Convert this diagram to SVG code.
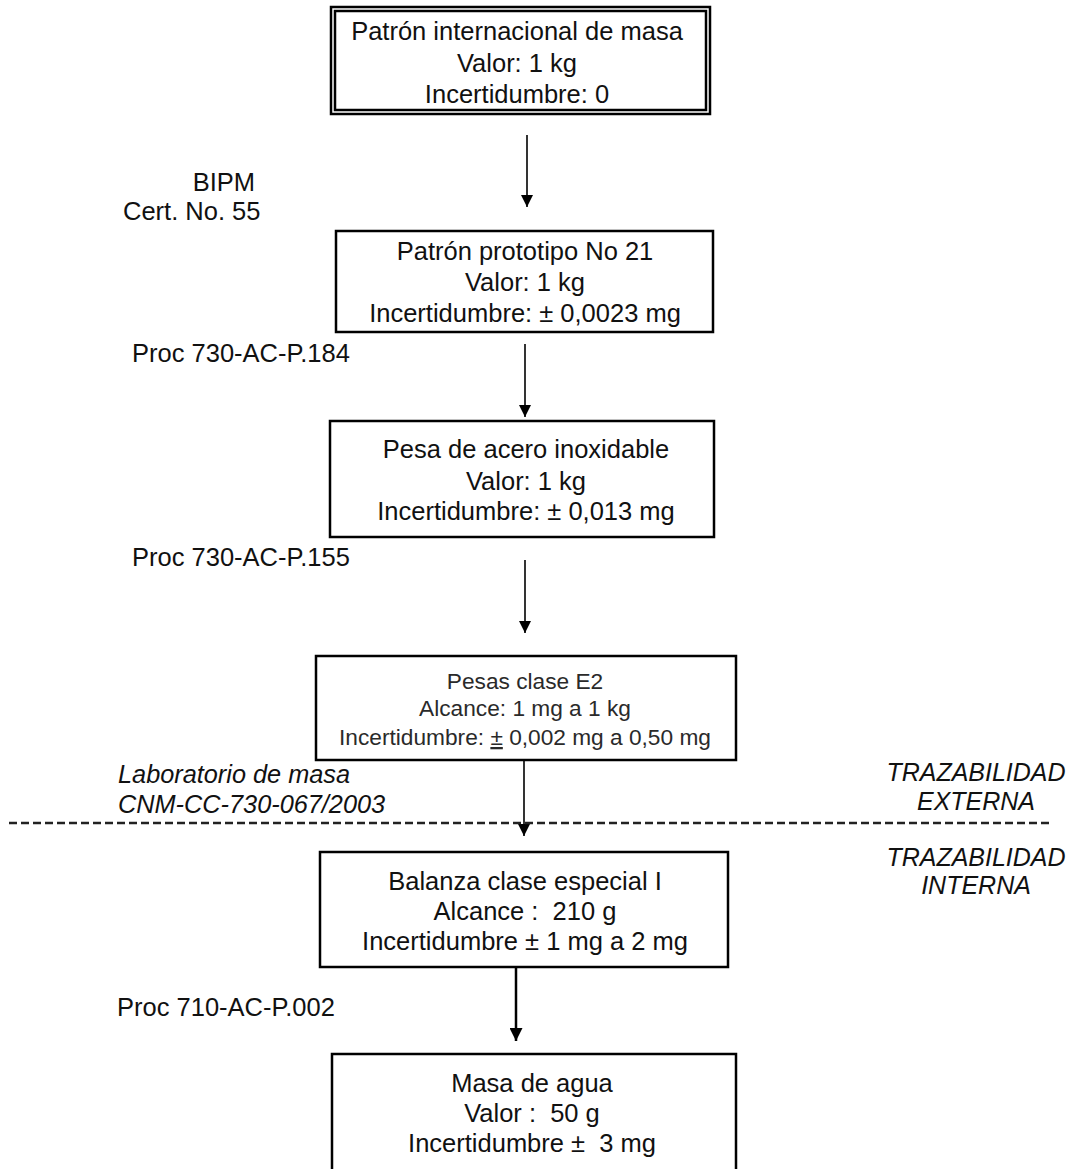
<svg xmlns="http://www.w3.org/2000/svg" width="1073" height="1169" viewBox="0 0 1073 1169">
<defs>
<style>
.box{fill:#fff;stroke:#000;stroke-width:2.5}
.t{font-family:"Liberation Sans",Arial,sans-serif;font-size:25.5px;fill:#111;text-anchor:middle}
.s{font-family:"Liberation Sans",Arial,sans-serif;font-size:22.7px;fill:#2a2a2a;text-anchor:middle}
.l{font-family:"Liberation Sans",Arial,sans-serif;font-size:25.5px;fill:#111}
.i{font-family:"Liberation Sans",Arial,sans-serif;font-size:25.3px;fill:#111;font-style:italic}
.ic{font-family:"Liberation Sans",Arial,sans-serif;font-size:25px;fill:#111;font-style:italic;text-anchor:middle}
.c{stroke:#000;stroke-width:1.6;fill:none}
</style>
<marker id="ah" viewBox="0 0 10 10" refX="10" refY="5" markerWidth="13" markerHeight="12" markerUnits="userSpaceOnUse" orient="auto">
<path d="M0,0 L10,5 L0,10 z" fill="#000"/>
</marker>
<marker id="ah2" viewBox="0 0 10 10" refX="10" refY="5" markerWidth="14" markerHeight="13" markerUnits="userSpaceOnUse" orient="auto">
<path d="M0,0 L10,5 L0,10 z" fill="#000"/>
</marker>
</defs>
<rect width="1073" height="1169" fill="#fff"/>

<g id="connectors">
<line class="c" x1="527" y1="135" x2="527" y2="207" marker-end="url(#ah)"/>
<line class="c" x1="525" y1="344" x2="525" y2="417" marker-end="url(#ah)"/>
<line class="c" x1="525" y1="560" x2="525" y2="633" marker-end="url(#ah)"/>
<line class="c" x1="524" y1="760" x2="524" y2="836" marker-end="url(#ah)"/>
<line stroke="#000" stroke-width="2.5" x1="516" y1="967" x2="516" y2="1041" marker-end="url(#ah2)"/>
<line stroke="#222" stroke-width="2.5" stroke-dasharray="8,4" x1="9" y1="823" x2="1052" y2="823"/>
</g>

<g id="n1">
<rect class="box" x="331" y="7" width="379" height="107"/>
<rect class="box" x="335" y="11" width="371" height="99"/>
<text class="t" x="517" y="40">Patrón internacional de masa</text>
<text class="t" x="517" y="72">Valor: 1 kg</text>
<text class="t" x="517" y="103">Incertidumbre: 0</text>
</g>

<g id="n2">
<rect class="box" x="336" y="231" width="377" height="101"/>
<text class="t" x="525" y="260">Patrón prototipo No 21</text>
<text class="t" x="525" y="291">Valor: 1 kg</text>
<text class="t" x="525" y="322">Incertidumbre: ± 0,0023 mg</text>
</g>

<g id="n3">
<rect class="box" x="330" y="421" width="384" height="116"/>
<text class="t" x="526" y="458">Pesa de acero inoxidable</text>
<text class="t" x="526" y="490">Valor: 1 kg</text>
<text class="t" x="526" y="520">Incertidumbre: ± 0,013 mg</text>
</g>

<g id="n4">
<rect class="box" x="316" y="656" width="420" height="104"/>
<text class="s" x="525" y="689">Pesas clase E2</text>
<text class="s" x="525" y="716">Alcance: 1 mg a 1 kg</text>
<text class="s" x="525" y="745">Incertidumbre: <tspan text-decoration="underline">±</tspan> 0,002 mg a 0,50 mg</text>
</g>

<g id="n5">
<rect class="box" x="320" y="852" width="408" height="115"/>
<text class="t" x="525" y="890">Balanza clase especial I</text>
<text class="t" x="525" y="920" xml:space="preserve">Alcance :  210 g</text>
<text class="t" x="525" y="950">Incertidumbre ± 1 mg a 2 mg</text>
</g>

<g id="n6">
<rect class="box" x="332" y="1054" width="404" height="125"/>
<text class="t" x="532" y="1092">Masa de agua</text>
<text class="t" x="532" y="1122" xml:space="preserve">Valor :  50 g</text>
<text class="t" x="532" y="1152" xml:space="preserve">Incertidumbre ±  3 mg</text>
</g>

<g id="labels">
<text class="l" x="255" y="191" text-anchor="end">BIPM</text>
<text class="l" x="123" y="220">Cert. No. 55</text>
<text class="l" x="132" y="362">Proc 730-AC-P.184</text>
<text class="l" x="132" y="566">Proc 730-AC-P.155</text>
<text class="i" x="118" y="783">Laboratorio de masa</text>
<text class="i" x="118" y="813">CNM-CC-730-067/2003</text>
<text class="ic" x="976" y="781">TRAZABILIDAD</text>
<text class="ic" x="976" y="810">EXTERNA</text>
<text class="ic" x="976" y="866">TRAZABILIDAD</text>
<text class="ic" x="976" y="894">INTERNA</text>
<text class="l" x="117" y="1016">Proc 710-AC-P.002</text>
</g>
</svg>
